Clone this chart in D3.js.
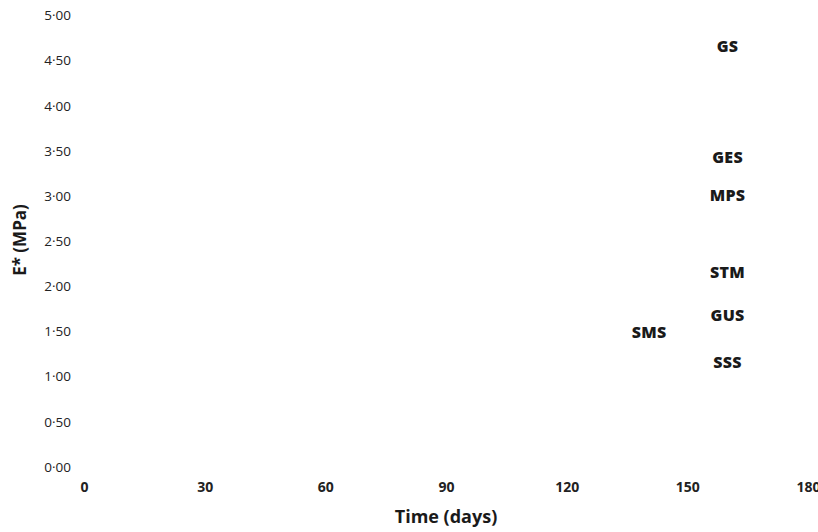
<!DOCTYPE html>
<html><head><meta charset="utf-8">
<script src="https://cdn.jsdelivr.net/npm/d3@7/dist/d3.min.js"></script>
<style>body{margin:0;background:#fff}svg{display:block}</style>
</head><body><svg id="c" width="818" height="532"></svg>
<script>
const series = ["GS","GES","MPS","STM","GUS","SMS","SSS"];
const labelDays = [160,160,160,160,160,140.5,160];
const labelValues = [4.65,3.42,3.00,2.15,1.67,1.49,1.16];
const xTicks = [0,30,60,90,120,150,180];
const yTicks = [0,0.5,1,1.5,2,2.5,3,3.5,4,4.5,5];

const svg = d3.select("#c");
const x = d3.scaleLinear().domain([0,180]).range([84,808]);
const y = d3.scaleLinear().domain([0,5]).range([466.5,15]);
const fmt = v => d3.format(".2f")(v).replace(".","·");
const FF = "Open Sans, sans-serif";

const gy = svg.append("g").attr("transform","translate(71,0)")
  .call(d3.axisLeft(y).tickValues(yTicks).tickSize(0).tickPadding(0).tickFormat(fmt));
gy.select(".domain").remove();
gy.selectAll("text").attr("font-family",FF).attr("font-size",13.5).attr("font-weight",500)
  .attr("fill","#222").attr("dy","0.35em");

const gx = svg.append("g").attr("transform","translate(0,484)")
  .call(d3.axisBottom(x).tickValues(xTicks).tickSize(0).tickPadding(0));
gx.select(".domain").remove();
gx.selectAll("text").attr("font-family",FF).attr("font-weight","bold").attr("font-size",14)
  .attr("fill","#222").attr("dy","0.55em");

svg.selectAll("text.lbl").data(series).join("text").attr("class","lbl")
  .attr("x",(d,i)=>x(labelDays[i])).attr("y",(d,i)=>y(labelValues[i]))
  .attr("dy","0.36em").attr("text-anchor","middle")
  .attr("font-family",FF).attr("font-weight","800").attr("font-size",16).attr("letter-spacing",0.3)
  .attr("fill","#1a1a1a")
  .text(d=>d);

svg.append("text").attr("x",446).attr("y",523).attr("text-anchor","middle")
  .attr("font-family",FF).attr("font-weight","bold").attr("font-size",18).attr("fill","#1a1a1a")
  .text("Time (days)");
svg.append("text").attr("transform","translate(26,240) rotate(-90)").attr("text-anchor","middle")
  .attr("font-family",FF).attr("font-weight","bold").attr("font-size",17).attr("fill","#1a1a1a")
  .text("E* (MPa)");
</script></body></html>
